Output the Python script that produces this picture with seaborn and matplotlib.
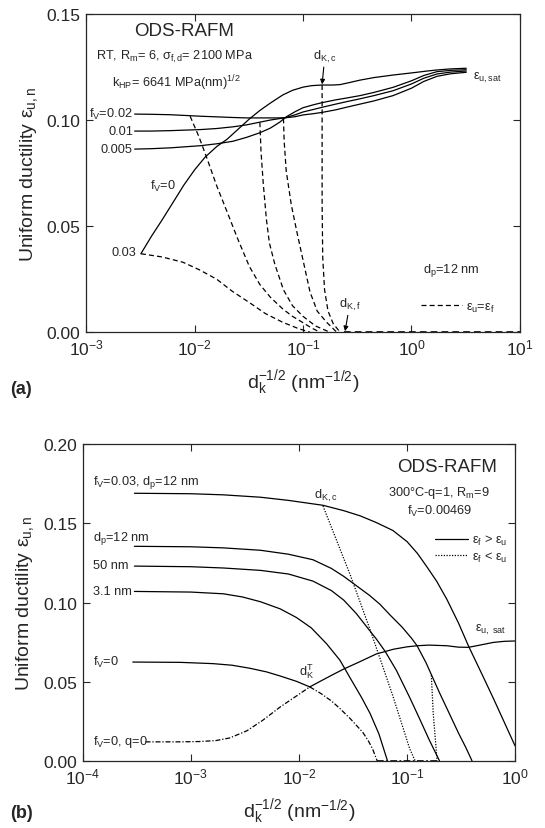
import matplotlib
matplotlib.use('Agg')
import matplotlib.pyplot as plt
import seaborn as sns
from matplotlib.lines import Line2D
from matplotlib.ticker import NullLocator, FixedLocator, FormatStrFormatter

# ---- panel (a) data ----
a_fv0_x = [0.0032, 0.004, 0.005, 0.0063, 0.008, 0.010, 0.0125, 0.016, 0.020, 0.025, 0.032, 0.040,
           0.050, 0.065, 0.080, 0.10, 0.12, 0.15, 0.19, 0.22, 0.27, 0.335, 0.45, 0.676, 1.0, 1.4,
           1.72, 2.3, 3.2]
a_fv0_y = [0.037, 0.0452, 0.0528, 0.061, 0.0695, 0.0765, 0.0825, 0.0875, 0.091, 0.0955, 0.1005, 0.1045,
           0.108, 0.1118, 0.114, 0.1155, 0.1162, 0.1165, 0.1165, 0.1167, 0.1177, 0.1188, 0.1200, 0.1212,
           0.1222, 0.1231, 0.1236, 0.1241, 0.1244]

a_fv_x = [0.0028, 0.004, 0.006, 0.0113, 0.016, 0.0226, 0.030, 0.040, 0.050, 0.061, 0.07, 0.085, 0.10,
          0.125, 0.15, 0.2, 0.26, 0.335, 0.45, 0.676, 1.0, 1.3, 1.72, 2.3, 3.2]
a_fv002_y = [0.1028, 0.1027, 0.1025, 0.1018, 0.1015, 0.1012, 0.1010, 0.1010, 0.1010, 0.1010, 0.1011,
             0.1016, 0.1024, 0.1030, 0.1036, 0.1048, 0.1062, 0.1075, 0.1090, 0.1115, 0.1150, 0.1182,
             0.1206, 0.1218, 0.1225]
a_fv001_y = [0.0948, 0.0948, 0.0950, 0.0955, 0.0960, 0.0968, 0.0977, 0.0990, 0.1000, 0.1007, 0.1012,
             0.1025, 0.1038, 0.1050, 0.1060, 0.1075, 0.1088, 0.1100, 0.1115, 0.1138, 0.1170, 0.1197,
             0.1217, 0.1226, 0.1231]
a_fv0005_y = [0.0863, 0.0865, 0.0869, 0.0879, 0.0888, 0.0900, 0.0918, 0.0940, 0.0962, 0.0990, 0.1015,
              0.1040, 0.1058, 0.1072, 0.1082, 0.1095, 0.1105, 0.1115, 0.1130, 0.1154, 0.1185, 0.1210,
              0.1228, 0.1234, 0.1237]

# eps_u = eps_f (dashed)
a_d003_x = [0.0032, 0.005, 0.0078, 0.011, 0.016, 0.022, 0.032, 0.045, 0.065, 0.09, 0.116]
a_d003_y = [0.037, 0.0355, 0.033, 0.0295, 0.025, 0.0195, 0.014, 0.0088, 0.0047, 0.0018, 0.0]
a_d002_x = [0.0091, 0.011, 0.013, 0.016, 0.020, 0.025, 0.032, 0.040, 0.050, 0.065, 0.08, 0.10, 0.12, 0.144]
a_d002_y = [0.1018, 0.092, 0.082, 0.069, 0.0566, 0.044, 0.031, 0.0225, 0.0165, 0.011, 0.0075, 0.0045,
            0.002, 0.0]
a_d001_x = [0.040, 0.041, 0.043, 0.046, 0.049, 0.055, 0.066, 0.08, 0.10, 0.13, 0.177]
a_d001_y = [0.099, 0.085, 0.070, 0.053, 0.042, 0.032, 0.020, 0.0125, 0.0075, 0.003, 0.0]
a_d0005_x = [0.066, 0.067, 0.070, 0.078, 0.088, 0.10, 0.116, 0.135, 0.165, 0.205]
a_d0005_y = [0.1008, 0.090, 0.076, 0.060, 0.047, 0.034, 0.019, 0.010, 0.0047, 0.0]
a_dkc_x = [0.15, 0.15, 0.152, 0.158, 0.17, 0.19, 0.22]
a_dkc_y = [0.1165, 0.06, 0.035, 0.02, 0.01, 0.004, 0.0]
a_zero_x = [0.24, 10.0]
a_zero_y = [0.0, 0.0]

# ---- panel (b) data ----
b_top_x = [3e-4, 0.001, 0.002, 0.0044, 0.008, 0.0167, 0.026, 0.037, 0.052, 0.074, 0.1, 0.125, 0.153,
           0.188, 0.234, 0.3, 0.37, 0.5, 0.63, 0.8, 1.0]
b_top_y = [0.169, 0.1687, 0.168, 0.1665, 0.1645, 0.1614, 0.158, 0.1547, 0.1505, 0.1455, 0.1385, 0.131,
           0.1225, 0.1135, 0.102, 0.087, 0.0727, 0.054, 0.0395, 0.024, 0.0095]
b_12_x = [3e-4, 0.001, 0.002, 0.0044, 0.008, 0.0135, 0.02, 0.026, 0.035, 0.045, 0.056, 0.07, 0.09, 0.11,
          0.124, 0.15, 0.2, 0.25, 0.3, 0.35, 0.40]
b_12_y = [0.1355, 0.1352, 0.1345, 0.133, 0.1305, 0.127, 0.1215, 0.1165, 0.110, 0.1045, 0.099, 0.092,
          0.0845, 0.0775, 0.0727, 0.062, 0.043, 0.029, 0.0175, 0.0085, 0.0]
b_50_x = [3e-4, 0.001, 0.002, 0.0044, 0.008, 0.0135, 0.02, 0.026, 0.034, 0.042, 0.052, 0.063, 0.08,
          0.106, 0.13, 0.16, 0.2]
b_50_y = [0.123, 0.1226, 0.1218, 0.1203, 0.118, 0.1135, 0.1075, 0.1015, 0.093, 0.085, 0.077, 0.069,
          0.057, 0.040, 0.027, 0.0135, 0.0]
b_31_x = [3e-4, 0.001, 0.002, 0.003, 0.0044, 0.0067, 0.0095, 0.013, 0.018, 0.024, 0.030, 0.038, 0.0455,
          0.055, 0.066]
b_31_y = [0.107, 0.1066, 0.1055, 0.1035, 0.1005, 0.096, 0.0905, 0.084, 0.074, 0.0635, 0.052, 0.040,
          0.030, 0.017, 0.0]
b_fv0_x = [2.9e-4, 0.0008, 0.0016, 0.0024, 0.0035, 0.005, 0.0067, 0.0095, 0.0126]
b_fv0_y = [0.0624, 0.0622, 0.0614, 0.0604, 0.0585, 0.0562, 0.0536, 0.0502, 0.0467]
b_fv0dd_x = [0.0126, 0.016, 0.020, 0.024, 0.030, 0.035, 0.039, 0.044, 0.048, 0.053]
b_fv0dd_y = [0.0467, 0.0425, 0.0378, 0.033, 0.0265, 0.0215, 0.018, 0.0125, 0.0076, 0.0]
b_q0_x = [3.8e-4, 0.0008, 0.0012, 0.0017, 0.0023, 0.0033, 0.0046, 0.0067, 0.0095, 0.0126]
b_q0_y = [0.012, 0.012, 0.0122, 0.0128, 0.0145, 0.019, 0.0255, 0.034, 0.041, 0.0467]
b_sat_x = [0.0126, 0.016, 0.020, 0.026, 0.035, 0.052, 0.075, 0.1, 0.124, 0.16, 0.234, 0.3, 0.37, 0.45,
           0.63, 0.8, 1.0]
b_sat_y = [0.0467, 0.0505, 0.054, 0.058, 0.062, 0.0675, 0.0705, 0.0720, 0.0727, 0.0731, 0.0727, 0.0718,
           0.0717, 0.0728, 0.0748, 0.0755, 0.0757]
b_dot1_x = [0.0167, 0.030, 0.0455, 0.074, 0.106, 0.119]
b_dot1_y = [0.161, 0.117, 0.083, 0.041, 0.0076, 0.0]
b_dot2_x = [0.168, 0.175, 0.19]
b_dot2_y = [0.054, 0.03, 0.0]
b_zero_x = [0.053, 0.2]
b_zero_y = [0.0, 0.0]

sns.set_style('ticks')
plt.rcParams['font.family'] = ['Liberation Sans', 'DejaVu Sans']
plt.rcParams['mathtext.fontset'] = 'custom'
plt.rcParams['mathtext.rm'] = 'Liberation Sans'
plt.rcParams['mathtext.it'] = 'Liberation Sans'
plt.rcParams['mathtext.bf'] = 'Liberation Sans:bold'
plt.rcParams['mathtext.sf'] = 'Liberation Sans'

DASH = (4, 2.5)
DOT = (1, 1.2)
DASHDOT = (4, 1.5, 1, 1.5)


def draw(ax, x, y, dashes=None, lw=0.9):
    sns.lineplot(x=x, y=y, ax=ax, color='black', linewidth=lw, sort=False,
                 estimator=None, errorbar=None)
    if dashes is not None:
        ax.lines[-1].set_dashes(dashes)


def style_axes(ax, xlim, ylim, yticks):
    ax.set_xscale('log')
    ax.set_xlim(*xlim)
    ax.set_ylim(*ylim)
    ax.yaxis.set_major_locator(FixedLocator(yticks))
    ax.yaxis.set_major_formatter(FormatStrFormatter('%.2f'))
    ax.xaxis.set_minor_locator(NullLocator())
    ax.yaxis.set_minor_locator(NullLocator())
    ax.tick_params(which='both', direction='in', top=True, right=True,
                   length=5, width=0.8, labelsize=12.5, pad=4)
    for s in ax.spines.values():
        s.set_linewidth(0.9)
        s.set_visible(True)
    ax.set_xlabel(r'd$_{\rm k}^{-1/2}$ (nm$^{-1/2}$)', fontsize=14, labelpad=7)
    ax.set_ylabel(r'Uniform ductility $\varepsilon_{\rm u,n}$', fontsize=14, labelpad=5)


fig = plt.figure(figsize=(5.45, 8.29), dpi=100)
ax1 = fig.add_axes([0.158, 0.598, 0.796, 0.384])
ax2 = fig.add_axes([0.152, 0.081, 0.793, 0.382])
ax1.set_xscale('log')
ax2.set_xscale('log')

# ---------------- (a) ----------------
draw(ax1, a_fv0_x, a_fv0_y)
draw(ax1, a_fv_x, a_fv002_y)
draw(ax1, a_fv_x, a_fv001_y)
draw(ax1, a_fv_x, a_fv0005_y)
draw(ax1, a_d003_x, a_d003_y, DASH)
draw(ax1, a_d002_x, a_d002_y, DASH)
draw(ax1, a_d001_x, a_d001_y, DASH)
draw(ax1, a_d0005_x, a_d0005_y, DASH)
draw(ax1, a_dkc_x, a_dkc_y, DASH)
draw(ax1, a_zero_x, a_zero_y, DASH, lw=1.2)
style_axes(ax1, (1e-3, 10), (0, 0.15), [0, 0.05, 0.10, 0.15])

fs = 9.2
ax1.text(0.0080, 0.142, 'ODS-RAFM', ha='center', va='center', fontsize=13.5)
ax1.text(0.0065, 0.130, r'RT, R$_{\rm m}$= 6, $\sigma_{\rm f,d}$= 2100 MPa',
         ha='center', va='center', fontsize=fs)
ax1.text(0.0068, 0.118, r'k$_{\rm HP}$= 6641 MPa(nm)$^{1/2}$',
         ha='center', va='center', fontsize=fs)
ax1.text(0.0027, 0.1030, r'f$_{\rm V}$=0.02', ha='right', va='center', fontsize=fs)
ax1.text(0.0027, 0.0950, '0.01', ha='right', va='center', fontsize=fs)
ax1.text(0.0027, 0.0865, '0.005', ha='right', va='center', fontsize=fs)
ax1.text(0.0029, 0.0378, '0.03', ha='right', va='center', fontsize=fs)
ax1.text(0.0068, 0.069, r'f$_{\rm V}$=0', ha='right', va='center', fontsize=fs)
ax1.text(3.7, 0.1205, r'$\varepsilon_{\rm u,sat}$', ha='left', va='center', fontsize=fs)
ax1.text(1.28, 0.0297, r'd$_{\rm p}$=12 nm', ha='left', va='center', fontsize=fs)
ax1.annotate(r'd$_{\rm K,c}$', xy=(0.15, 0.1168), xytext=(0.159, 0.1265),
             ha='center', va='bottom', fontsize=fs,
             arrowprops=dict(arrowstyle='-|>', color='black', lw=0.8,
                             mutation_scale=7, shrinkA=0, shrinkB=0))
ax1.annotate(r'd$_{\rm K,f}$', xy=(0.244, 0.0005), xytext=(0.27, 0.0095),
             ha='center', va='bottom', fontsize=fs,
             arrowprops=dict(arrowstyle='-|>', color='black', lw=0.8,
                             mutation_scale=7, shrinkA=0, shrinkB=0))
h_a = [Line2D([], [], color='black', lw=0.9, dashes=DASH)]
ax1.legend(h_a, [r'$\varepsilon_{\rm u}$=$\varepsilon_{\rm f}$'], loc='center left',
           bbox_to_anchor=(0.772, 0.079), frameon=False, fontsize=fs,
           handlelength=3.2, handletextpad=0.3, borderpad=0, borderaxespad=0)

# ---------------- (b) ----------------
draw(ax2, b_top_x, b_top_y)
draw(ax2, b_12_x, b_12_y)
draw(ax2, b_50_x, b_50_y)
draw(ax2, b_31_x, b_31_y)
draw(ax2, b_fv0_x, b_fv0_y)
draw(ax2, b_fv0dd_x, b_fv0dd_y, DASHDOT)
draw(ax2, b_q0_x, b_q0_y, DASHDOT)
draw(ax2, b_sat_x, b_sat_y)
draw(ax2, b_dot1_x, b_dot1_y, DOT)
draw(ax2, b_dot2_x, b_dot2_y, DOT)
draw(ax2, b_zero_x, b_zero_y, DASHDOT, lw=1.2)
style_axes(ax2, (1e-4, 1), (0, 0.20), [0, 0.05, 0.10, 0.15, 0.20])

xl = 1.24e-4
ax2.text(xl, 0.1765, r'f$_{\rm V}$=0.03, d$_{\rm p}$=12 nm', ha='left', va='center', fontsize=fs)
ax2.text(xl, 0.1410, r'd$_{\rm p}$=12 nm', ha='left', va='center', fontsize=fs)
ax2.text(xl, 0.1235, '50 nm', ha='left', va='center', fontsize=fs)
ax2.text(xl, 0.1075, '3.1 nm', ha='left', va='center', fontsize=fs)
ax2.text(xl, 0.0630, r'f$_{\rm V}$=0', ha='left', va='center', fontsize=fs)
ax2.text(xl, 0.0125, r'f$_{\rm V}$=0, q=0', ha='left', va='center', fontsize=fs)
ax2.text(0.234, 0.186, 'ODS-RAFM', ha='center', va='center', fontsize=13.5)
ax2.text(0.198, 0.170, r'300°C-q=1, R$_{\rm m}$=9', ha='center', va='center', fontsize=fs)
ax2.text(0.202, 0.158, r'f$_{\rm V}$=0.00469', ha='center', va='center', fontsize=fs)
ax2.text(0.0178, 0.168, r'd$_{\rm K,c}$', ha='center', va='center', fontsize=fs)
ax2.text(0.43, 0.083, r'$\varepsilon_{\rm u,\ sat}$', ha='left', va='center', fontsize=fs)
ax2.text(0.0118, 0.057, r'd$_{\rm K}^{\rm T}$', ha='center', va='center', fontsize=fs)
h_b = [Line2D([], [], color='black', lw=0.9),
       Line2D([], [], color='black', lw=0.9, dashes=DOT)]
ax2.legend(h_b, [r'$\varepsilon_{\rm f}$ > $\varepsilon_{\rm u}$',
                 r'$\varepsilon_{\rm f}$ < $\varepsilon_{\rm u}$'],
           loc='center left', bbox_to_anchor=(0.815, 0.67), frameon=False,
           fontsize=fs, handlelength=2.6, handletextpad=0.3, labelspacing=0.2,
           borderpad=0, borderaxespad=0)

fig.text(0.018, 0.530, '(a)', fontsize=13, fontweight='bold', ha='left', va='center')
fig.text(0.018, 0.019, '(b)', fontsize=13, fontweight='bold', ha='left', va='center')

fig.savefig('out.png', dpi=100)
